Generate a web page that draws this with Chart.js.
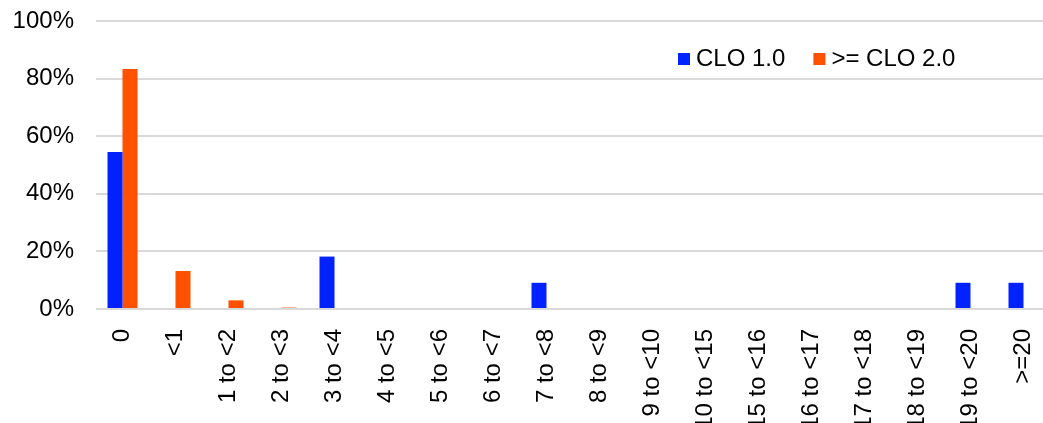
<!DOCTYPE html>
<html>
<head>
<meta charset="utf-8">
<script src="https://cdn.jsdelivr.net/npm/chart.js@4/dist/chart.umd.min.js"></script>
<style>
body { margin: 0; overflow: hidden; background: #fff; }
</style>
</head>
<body>
<canvas id="myChart" width="1060" height="450"></canvas>
<script>
// categorie (anni)
var categories = ['0', '<1', '1 to <2', '2 to <3', '3 to <4', '4 to <5', '5 to <6', '6 to <7', '7 to <8', '8 to <9',
                  '9 to <10', '10 to <15', '15 to <16', '16 to <17', '17 to <18', '18 to <19', '19 to <20', '>=20'];
// valori in %
var clo1 = [54.5, 0, 0, 0, 18.2, 0, 0, 0, 9.1, 0, 0, 0, 0, 0, 0, 0, 9.1, 9.1];
var clo2 = [83.3, 13.2, 3.0, 0.5, 0, 0, 0, 0, 0, 0, 0, 0, 0, 0, 0, 0, 0, 0];
var yTicks = [0, 20, 40, 60, 80, 100];

var FONT = "'Liberation Sans', Arial, sans-serif";

// legenda disegnata a mano dentro l'area del grafico
var legendInside = {
	id: 'legendInside',
	afterDraw: function(chart) {
		var ctx = chart.ctx;
		var x = 678;
		var y = 59;
		ctx.save();
		ctx.font = '24px ' + FONT;
		ctx.textBaseline = 'middle';
		ctx.textAlign = 'left';
		chart.data.datasets.forEach(function(ds) {
			ctx.fillStyle = ds.backgroundColor;
			ctx.fillRect(x, y - 6, 12, 12);
			ctx.fillStyle = '#000';
			ctx.fillText(ds.label, x + 18, y);
			x += 18 + ctx.measureText(ds.label).width + 28;
		});
		ctx.restore();
	}
};

var ctx = document.getElementById('myChart').getContext('2d');
var myChart = new Chart(ctx, {
	type: 'bar',
	data: {
		labels: categories,
		datasets: [{
			label: 'CLO 1.0',
			backgroundColor: '#0022ff',
			data: clo1
		}, {
			label: '>= CLO 2.0',
			backgroundColor: '#ff5100',
			data: clo2
		}]
	},
	options: {
		responsive: false,
		animation: false,
		layout: { padding: { top: 21, right: 10, left: 0, bottom: 0 } },
		categoryPercentage: 0.566,
		barPercentage: 1,
		plugins: {
			legend: { display: false },
			tooltip: { enabled: false }
		},
		scales: {
			x: {
				grid: { display: false },
				border: { display: false },
				ticks: {
					autoSkip: false,
					minRotation: 90,
					maxRotation: 90,
					padding: 12,
					color: '#000',
					font: { family: FONT, size: 24 }
				},
				afterFit: function(scale) {
					scale.height = 141;
					scale.paddingLeft = 0;
					scale.paddingRight = 0;
				}
			},
			y: {
				min: 0,
				max: 100,
				afterBuildTicks: function(scale) {
					scale.ticks = yTicks.map(function(v) { return { value: v }; });
				},
				grid: { color: '#d9d9d9', lineWidth: 2, drawTicks: false },
				border: { display: false },
				ticks: {
					padding: 22,
					color: '#000',
					font: { family: FONT, size: 24 },
					callback: function(v) { return v + '%'; }
				},
				afterFit: function(scale) {
					scale.width = 96;
					scale.paddingTop = 0;
					scale.paddingBottom = 0;
				}
			}
		}
	},
	plugins: [legendInside]
});
</script>
</body>
</html>
